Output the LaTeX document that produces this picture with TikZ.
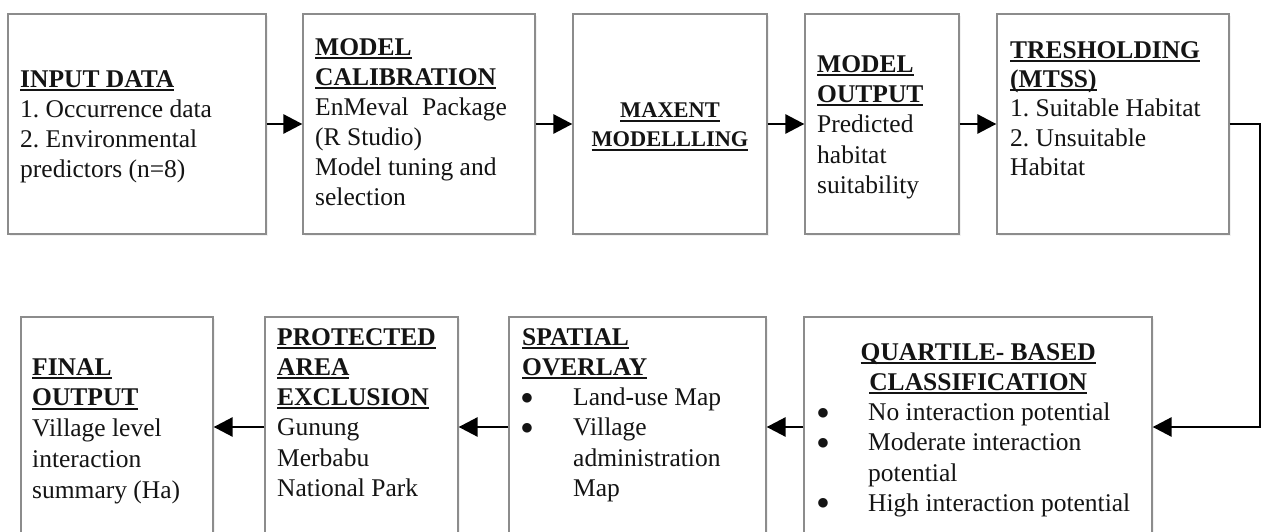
\documentclass[tikz,border=0pt]{standalone}
\usepackage{fontspec}
\setmainfont{Liberation Serif}
\newfontfamily\djv{DejaVu Sans}
\usetikzlibrary{arrows.meta,shadows}
\definecolor{boxgray}{RGB}{140,140,140}
\definecolor{inkc}{RGB}{20,20,20}
\frenchspacing
\newcommand\hd[1]{\setbox0\hbox{\bfseries #1}\leavevmode\rlap{\rule[-3.6pt]{\wd0}{1.8pt}}\box0}
\newcommand\bigbul{{\djv\fontsize{12.5}{12}\selectfont\raisebox{4.6pt}{●}}}
\newcommand\bulS{\makebox[51pt][l]{\hspace*{-0.5pt}\bigbul}}
\newcommand\indS{\hspace*{51pt}}
\newcommand\bulQ{\makebox[50pt][l]{\hspace*{-0.5pt}\bigbul}}
\newcommand\indQ{\hspace*{50pt}}
\begin{document}
\begin{tikzpicture}[x=1pt,y=-1pt,
  stage/.style={draw=boxgray, line width=1.3pt, fill=white, inner sep=0pt,
    drop shadow={shadow xshift=2pt, shadow yshift=-2pt, opacity=0.10}},
  txt/.style={anchor=north west, inner sep=0pt, align=left, text=inkc},
  flow/.style={line width=2.8pt, draw=black, -{Triangle[length=19pt,width=19pt]}}]
\useasboundingbox (0,0) rectangle (1262,532);
\clip (0,0) rectangle (1262,532);
% top row boxes
\node[stage, minimum width=258pt, minimum height=220pt] (b1) at (137,124) {};
\node[stage, minimum width=232pt, minimum height=220pt] (b2) at (419,124) {};
\node[stage, minimum width=194pt, minimum height=220pt] (b3) at (670,124) {};
\node[stage, minimum width=154pt, minimum height=220pt] (b4) at (882,124) {};
\node[stage, minimum width=232pt, minimum height=220pt] (b5) at (1113,124) {};
% bottom row boxes
\node[stage, minimum width=192pt, minimum height=220pt] (f) at (117,427) {};
\node[stage, minimum width=193pt, minimum height=220pt] (p) at (361.5,427) {};
\node[stage, minimum width=257pt, minimum height=220pt] (s) at (637.5,427) {};
\node[stage, minimum width=348pt, minimum height=220pt] (q) at (978,427) {};
% texts
\node[txt, font=\fontsize{25.5}{30}\selectfont] (t1) at (20,70.2)
  {\hd{INPUT DATA}\\1. Occurrence data\\2. Environmental\\predictors (n=8)};
\node[txt, font=\fontsize{25.5}{30}\selectfont] (t2) at (315,38.2)
  {\hd{MODEL}\\\hd{CALIBRATION}\\EnMeval\hspace{13.4pt}Package\\(R Studio)\\Model tuning and\\selection};
\node[txt, anchor=north, align=center, font=\fontsize{22.4}{29}\selectfont] (t3) at (670,103)
  {\hd{MAXENT}\\\hd{MODELLLING}};
\node[txt, font=\fontsize{25.5}{30.3}\selectfont] (t4) at (817,55.2)
  {\hd{MODEL}\\\hd{OUTPUT}\\Predicted\\habitat\\suitability};
\node[txt, font=\fontsize{25.5}{29.3}\selectfont] (t5) at (1010,41.2)
  {\hd{TRESHOLDING}\\\hd{(MTSS)}\\1. Suitable Habitat\\2. Unsuitable\\Habitat};
\node[txt, font=\fontsize{25.5}{30.7}\selectfont] (tf) at (32,358.2)
  {\hd{FINAL}\\\hd{OUTPUT}\\Village level\\interaction\\summary (Ha)};
\node[txt, font=\fontsize{25.5}{30.2}\selectfont] (tp) at (277,328.2)
  {\hd{PROTECTED}\\\hd{AREA}\\\hd{EXCLUSION}\\Gunung\\Merbabu\\National Park};
\node[txt, font=\fontsize{25.5}{30.2}\selectfont] (ts) at (522,328.2)
  {\hd{SPATIAL}\\\hd{OVERLAY}\\\bulS Land-use Map\\\bulS Village\\\indS administration\\\indS Map};
\node[txt, font=\fontsize{25.5}{30.2}\selectfont] (tq) at (818,343.2)
  {\makebox[320pt]{\hd{QUARTILE- BASED}}\\\makebox[320pt]{\hd{CLASSIFICATION}}\\\bulQ No interaction potential\\\bulQ Moderate interaction\\\indQ potential\\\bulQ High interaction potential};
% connectors
\draw[flow] (b1.east) -- (b2.west);
\draw[flow] (b2.east) -- (b3.west);
\draw[flow] (b3.east) -- (b4.west);
\draw[flow] (b4.east) -- (b5.west);
\coordinate (turn) at (1260,124);
\draw[flow] (b5.east) -- (turn) |- (q.east);
\draw[flow] (q.west) -- (s.east);
\draw[flow] (s.west) -- (p.east);
\draw[flow] (p.west) -- (f.east);
\end{tikzpicture}
\end{document}
